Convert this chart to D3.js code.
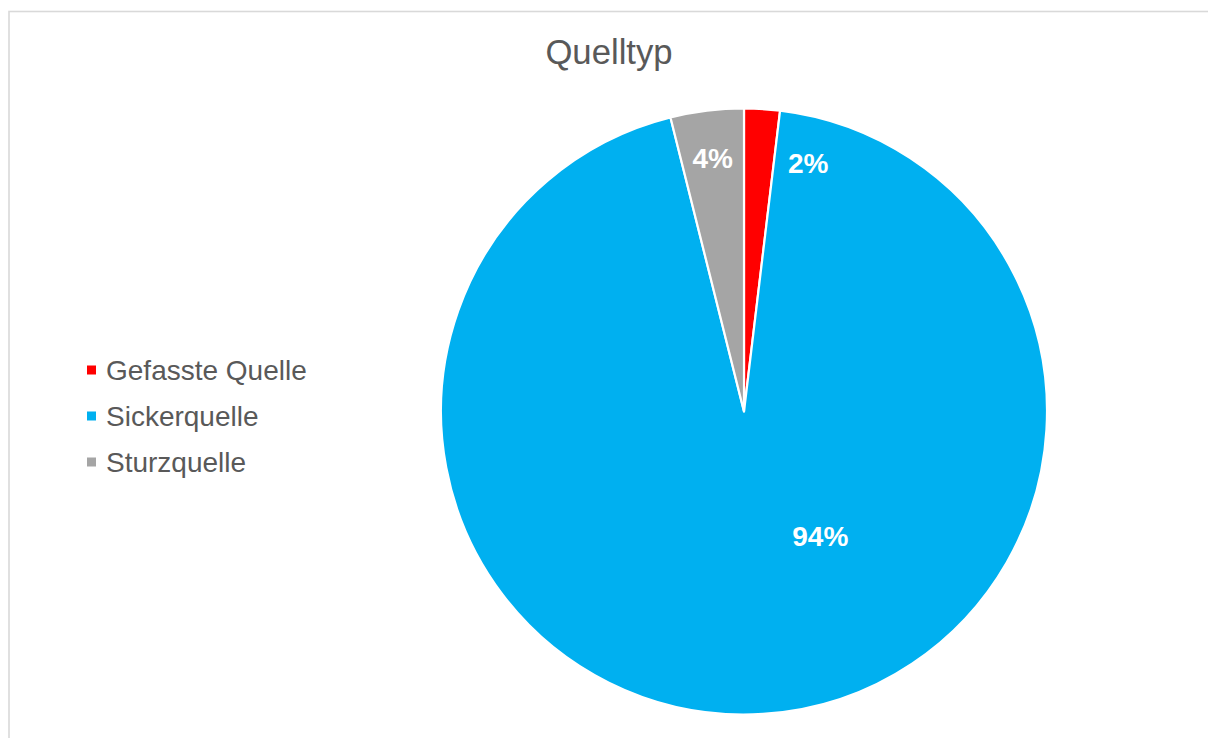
<!DOCTYPE html>
<html>
<head>
<meta charset="utf-8">
<script src="https://cdn.jsdelivr.net/npm/d3@7"></script>
<style>
  html, body { margin: 0; padding: 0; background: #fff; }
  svg { display: block; }
</style>
</head>
<body>
<svg id="chart" width="1208" height="738"></svg>
<script>
// ---- data ----
const title = "Quelltyp";
const categories = ["Gefasste Quelle", "Sickerquelle", "Sturzquelle"];
const values = [1.9, 94.2, 3.9];
const colors = ["#FF0000", "#00B0F0", "#A5A5A5"];

// ---- layout (not data) ----
const W = 1208, H = 738;
const cx = 744, cy = 411.5, R = 303;
// label placement relative to slice mid-angle (deg offset, radius fraction)
const labelAngleOffset = [11.1, -27.8, 0];
const labelRadiusFrac = [0.845, 0.483, 0.843];

const svg = d3.select("#chart");

// chart border
svg.append("rect")
  .attr("x", 9).attr("y", 11.5)
  .attr("width", 1400).attr("height", 1000)
  .attr("fill", "#fff")
  .attr("stroke", "#d9d9d9")
  .attr("stroke-width", 1.6);

// title
svg.append("text")
  .attr("x", 609).attr("y", 64)
  .attr("text-anchor", "middle")
  .attr("font-family", "Liberation Sans, Arial, sans-serif")
  .attr("font-size", "34.7px")
  .attr("fill", "#595959")
  .text(title);

const data = categories.map((c, i) => ({ cat: c, value: values[i], color: colors[i], i }));
const total = d3.sum(values);

const pie = d3.pie().sort(null).value(d => d.value);
const arcs = pie(data);
const arc = d3.arc().innerRadius(0).outerRadius(R);

const g = svg.append("g").attr("transform", `translate(${cx},${cy})`);

g.selectAll("path.slice")
  .data(arcs)
  .join("path")
  .attr("class", "slice")
  .attr("d", arc)
  .attr("fill", d => d.data.color)
  .attr("stroke", "#fff")
  .attr("stroke-width", 2.2)
  .attr("stroke-linejoin", "round");

// data labels
g.selectAll("text.lbl")
  .data(arcs)
  .join("text")
  .attr("class", "lbl")
  .attr("transform", d => {
    const mid = (d.startAngle + d.endAngle) / 2 + labelAngleOffset[d.index] * Math.PI / 180;
    const r = R * labelRadiusFrac[d.index];
    return `translate(${r * Math.sin(mid)},${-r * Math.cos(mid)})`;
  })
  .attr("text-anchor", "middle")
  .attr("dy", "0.35em")
  .attr("font-family", "Liberation Sans, Arial, sans-serif")
  .attr("font-weight", "bold")
  .attr("font-size", "28px")
  .attr("fill", "#fff")
  .text(d => Math.round(d.data.value / total * 100) + "%");

// legend
const legendY = d3.scalePoint().domain(categories).range([370, 462]);
const leg = svg.append("g");
const items = leg.selectAll("g.item")
  .data(data)
  .join("g")
  .attr("class", "item")
  .attr("transform", d => `translate(0,${legendY(d.cat)})`);

items.append("rect")
  .attr("x", 87).attr("y", -4.5)
  .attr("width", 9).attr("height", 9)
  .attr("fill", d => d.color);

items.append("text")
  .attr("x", 106)
  .attr("y", 0)
  .attr("dy", "0.35em")
  .attr("font-family", "Liberation Sans, Arial, sans-serif")
  .attr("font-size", "28px")
  .attr("fill", "#595959")
  .text(d => d.cat);
</script>
</body>
</html>
